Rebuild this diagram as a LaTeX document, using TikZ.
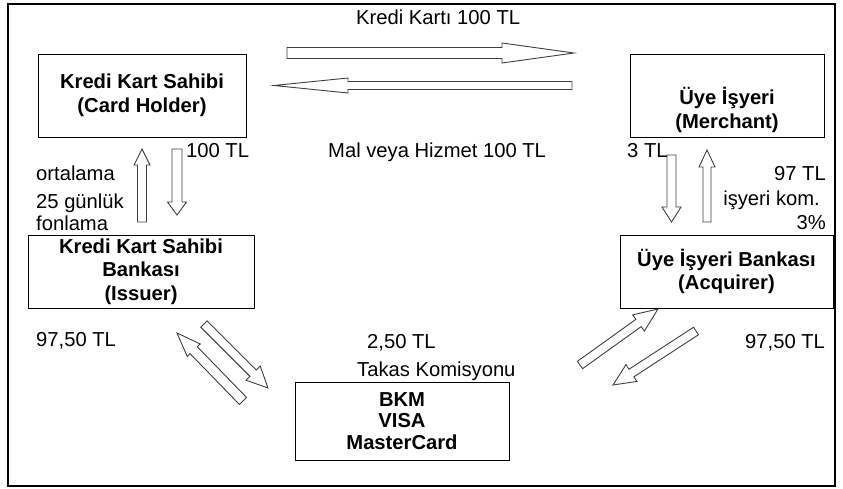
\documentclass[tikz,border=0pt]{standalone}
\usepackage{fontspec}
\setmainfont{Liberation Sans}
\usetikzlibrary{calc}

% hollow block arrow: tail, tip, shaft half width, head half width, head length
\newcommand{\blockarrow}[5]{%
  \draw[hollow] ($(#1)!#3pt!90:(#2)$)
    -- ($(#2)!#5pt!(#1)!#3pt!90:(#2)$)
    -- ($(#2)!#5pt!(#1)!#4pt!90:(#2)$)
    -- (#2)
    -- ($(#2)!#5pt!(#1)!#4pt!-90:(#2)$)
    -- ($(#2)!#5pt!(#1)!#3pt!-90:(#2)$)
    -- ($(#1)!#3pt!-90:(#2)$) -- cycle;}

\begin{document}
\begin{tikzpicture}[
        x=1pt, y=-1pt,
        font=\fontsize{20.2}{23.5}\selectfont,
        box/.style={draw, line width=0.9pt, inner sep=0pt, align=center,
                    font=\fontsize{20.2}{23.5}\selectfont\bfseries},
        hollow/.style={draw=black!75, fill=white, line width=0.9pt},
        lbl/.style={anchor=base west, inner sep=0pt},
        rlbl/.style={anchor=base east, inner sep=0pt}
    ]
        \useasboundingbox (0,0) rectangle (843,488);

        % --- Marco exterior ---
        \draw[line width=2pt] (8,4) rectangle (835,486);

        % --- Cajas de los participantes ---
        \node[box, minimum width=208, minimum height=83] (holder) at (142,95.5)
            {Kredi Kart Sahibi\\(Card Holder)};
        \node[box, minimum width=194, minimum height=83] (merchant) at (727,95.5) {};
        \node[inner sep=0pt, align=center, font=\fontsize{20.2}{23.5}\selectfont\bfseries]
            (merchanttext) at (727,110) {Üye İşyeri\\(Merchant)};
        \node[box, minimum width=226, minimum height=73] (issuer) at (141,271.5)
            {Kredi Kart Sahibi\\Bankası\\(Issuer)};
        \node[box, minimum width=213, minimum height=73] (acquirer) at (726.5,271.5)
            {Üye İşyeri Bankası\\(Acquirer)};
        \node[box, minimum width=214, minimum height=78,
              font=\fontsize{20.2}{21.5}\selectfont\bfseries] (scheme) at (402,421)
            {BKM\\VISA\\MasterCard};

        % --- Extremos de las flechas ---
        \coordinate (cardtail) at (287,53);    \coordinate (cardtip) at (574,53);
        \coordinate (goodstail) at (572,85.5); \coordinate (goodstip) at (274,85.5);
        \coordinate (fundtail) at (142,222);   \coordinate (fundtip) at (142,149);
        \coordinate (paytail) at (177,149);    \coordinate (paytip) at (177,215);
        \coordinate (comtail) at (671.5,155);  \coordinate (comtip) at (671.5,222);
        \coordinate (nettail) at (707,222);    \coordinate (nettip) at (707,150);
        \coordinate (isstail) at (243,401);    \coordinate (isstip) at (177,333);
        \coordinate (clrtail) at (204,324);    \coordinate (clrtip) at (268,388);
        \coordinate (acqtail) at (580,365);    \coordinate (acqtip) at (658,309);
        \coordinate (settail) at (696,331);    \coordinate (settip) at (613,385);

        % --- Flechas huecas ---
        \blockarrow{cardtail}{cardtip}{5.5}{10}{72}
        \blockarrow{goodstail}{goodstip}{4}{7.5}{74}
        \blockarrow{fundtail}{fundtip}{4.5}{8}{16}
        \blockarrow{paytail}{paytip}{5}{9.5}{13}
        \blockarrow{comtail}{comtip}{4.5}{9.5}{15}
        \blockarrow{nettail}{nettip}{4}{8}{17}
        \blockarrow{isstail}{isstip}{5}{9}{24}
        \blockarrow{clrtail}{clrtip}{4.5}{10}{21}
        \blockarrow{acqtail}{acqtip}{4.5}{10}{24}
        \blockarrow{settail}{settip}{4.5}{10}{22}

        % --- Importes y rótulos ---
        \node[lbl] (card) at (356,24) {Kredi Kartı 100 TL};
        \node[lbl] (goods) at (328,157) {Mal veya Hizmet 100 TL};
        \node[lbl] (pay) at (186,157) {100 TL};
        \node[lbl] (fee) at (627,157) {3 TL};
        \node[lbl] (avg) at (36,180) {ortalama};
        \node[lbl] (days) at (36,208) {25 günlük};
        \node[lbl] (fund) at (36,230) {fonlama};
        \node[rlbl] (net) at (826,180) {97 TL};
        \node[rlbl] (kom) at (820,205) {işyeri kom.};
        \node[rlbl] (rate) at (826,229) {3\%};
        \node[lbl] (issamt) at (36,346) {97,50 TL};
        \node[lbl] (clramt) at (367,348) {2,50 TL};
        \node[lbl] (takas) at (357,376) {Takas Komisyonu};
        \node[lbl] (acqamt) at (745,348) {97,50 TL};
\end{tikzpicture}
\end{document}
